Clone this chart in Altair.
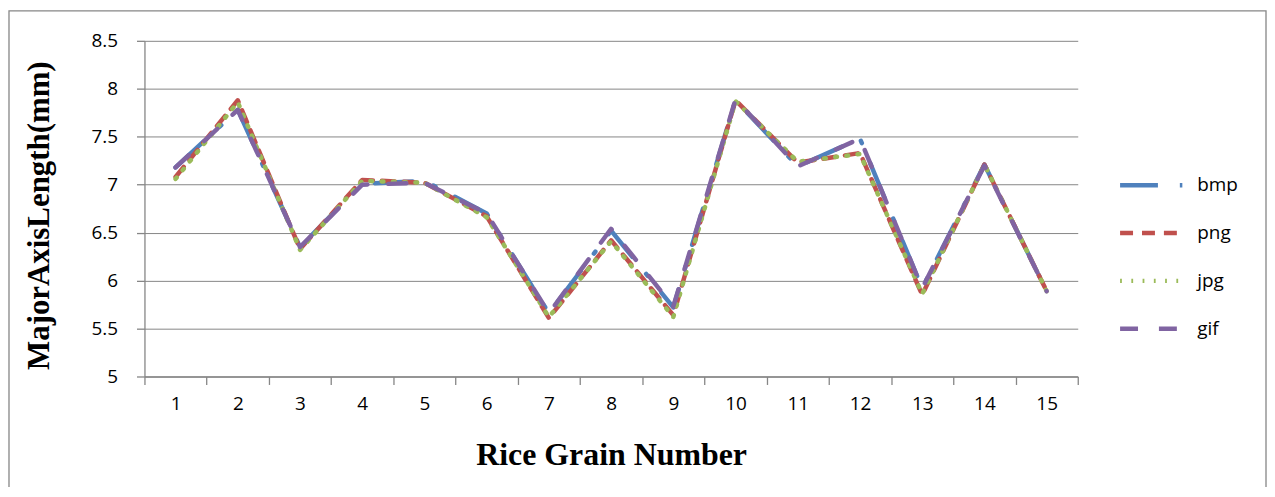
import altair as alt
import pandas as pd

grains = list(range(1, 16))
bmp = [7.18, 7.78, 6.35, 7.01, 7.04, 6.70, 5.66, 6.52, 5.72, 7.88, 7.19, 7.48, 5.92, 7.21, 5.89]
png = [7.08, 7.88, 6.33, 7.05, 7.02, 6.67, 5.61, 6.42, 5.64, 7.88, 7.23, 7.33, 5.85, 7.21, 5.89]
jpg = [7.06, 7.86, 6.32, 7.04, 7.02, 6.66, 5.62, 6.41, 5.62, 7.87, 7.24, 7.32, 5.86, 7.21, 5.89]
gif = [7.18, 7.78, 6.35, 7.00, 7.02, 6.70, 5.66, 6.54, 5.73, 7.89, 7.19, 7.48, 5.92, 7.20, 5.89]

series_names = ["bmp", "png", "jpg", "gif"]
series_colors = ["#4F81BD", "#C0504D", "#9BBB59", "#8064A2"]
series_dashes = [[38, 22, 2.5, 22], [13, 9], [1.8, 9.5], [18, 21]]

rows = []
for name, vals in zip(series_names, [bmp, png, jpg, gif]):
    for g, v in zip(grains, vals):
        rows.append({"grain": g, "value": v, "series": name})
df = pd.DataFrame(rows)

W, H = 937, 337
grid = "#868686"

leg = dict(title=None, orient="none", legendX=977, legendY=110,
           symbolType="stroke", symbolSize=4225, symbolStrokeWidth=4.5,
           labelFontSize=19, labelFont="Open Sans", rowPadding=3, labelOffset=10)

lines = alt.Chart(df).mark_line(strokeWidth=4.5, strokeCap="round", strokeJoin="round").encode(
    x=alt.X("grain:O",
            scale=alt.Scale(type="band", paddingInner=0, paddingOuter=0),
            bandPosition=0.5,
            axis=alt.Axis(title="Rice Grain Number", labelAngle=0, tickBand="extent",
                          tickSize=8, labelPadding=10, titleX=W / 2, titleY=78,
                          titleBaseline="middle", titleAlign="center", titleFontSize=32)),
    y=alt.Y("value:Q",
            scale=alt.Scale(domain=[5, 8.5], nice=False, zero=False),
            axis=alt.Axis(title="MajorAxisLength(mm)", values=[5, 5.5, 6, 6.5, 7, 7.5, 8, 8.5],
                          format="~g", tickSize=8, labelPadding=19, grid=True,
                          titleX=-105, titleY=175, titleAngle=-90, titleFontSize=31,
                          titleBaseline="middle", titleAlign="center")),
    color=alt.Color("series:N",
                    scale=alt.Scale(domain=series_names, range=series_colors),
                    legend=alt.Legend(**leg)),
    strokeDash=alt.StrokeDash("series:N",
                              scale=alt.Scale(domain=series_names, range=series_dashes),
                              legend=alt.Legend(**leg)),
    detail="series:N",
)

frame = alt.Chart(pd.DataFrame({"f": [0]})).mark_rect(
    fill=None, stroke=grid, strokeWidth=1.3
).encode(x=alt.value(-136), x2=alt.value(1126), y=alt.value(-30), y2=alt.value(470))

chart = alt.layer(frame, lines).properties(
    width=W, height=H,
    padding={"left": 137, "top": 32, "right": 190, "bottom": 110},
    autosize=alt.AutoSizeParams(type="none"),
).configure_view(stroke=None).configure_axis(
    domainColor=grid, tickColor=grid, gridColor=grid, gridWidth=1, domainWidth=1.3, tickWidth=1.3,
    labelFont="Open Sans", labelFontSize=19, labelColor="#000000",
    titleFont="Liberation Serif", titleFontWeight="bold", titleColor="#000000",
).configure_axisX(grid=False)

chart.save("out.html", embed_options={"renderer": "svg", "actions": False})
